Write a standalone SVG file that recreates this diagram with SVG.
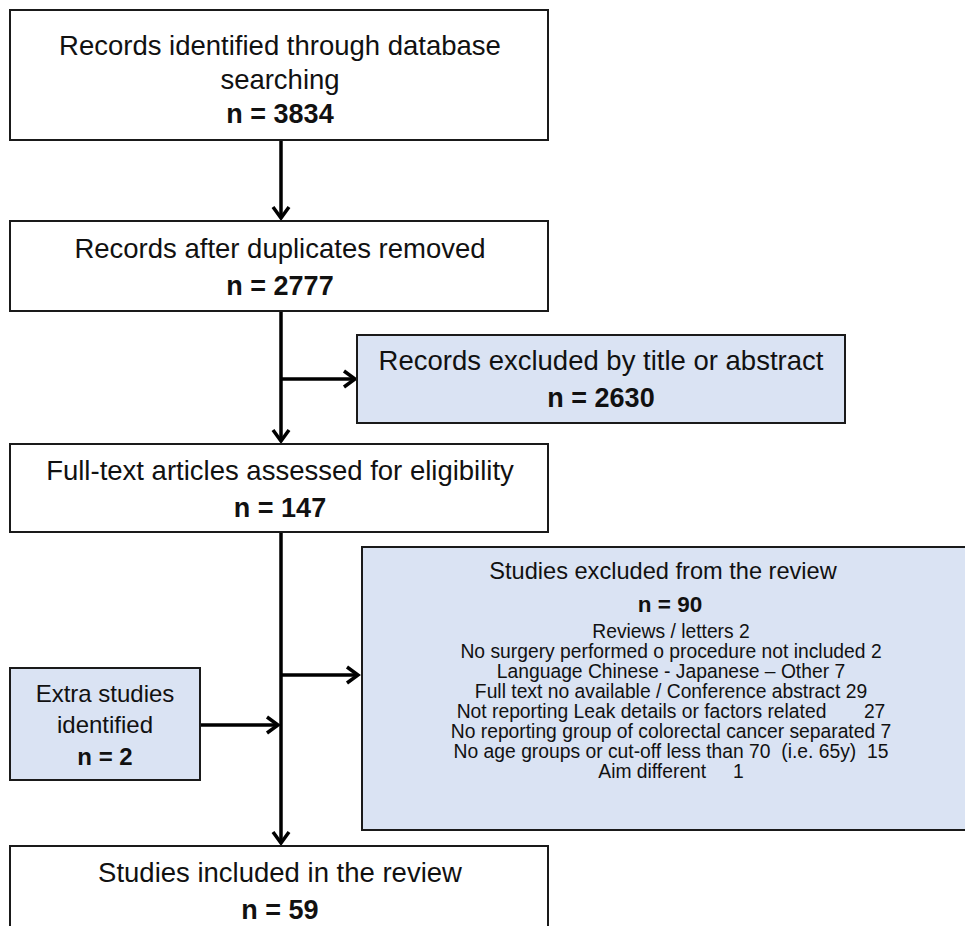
<svg xmlns="http://www.w3.org/2000/svg" width="965" height="926" viewBox="0 0 965 926">
<style>
.box{fill:#ffffff;stroke:#1a1a1a;stroke-width:2}
.blue{fill:#dae3f3;stroke:#1a1a1a;stroke-width:2}
text{font-family:"Liberation Sans",Arial,sans-serif;fill:#111;text-anchor:middle}
.t{font-size:27.5px}
.b{font-size:27px;font-weight:bold}
.h{font-size:23.6px}
.hb{font-size:22.5px;font-weight:bold}
.s{font-size:19.3px}
.e{font-size:24px}
.eb{font-size:24px;font-weight:bold}
.c{stroke:#000;stroke-width:3.5;fill:none}
</style>
<defs>
<marker id="ah" markerUnits="userSpaceOnUse" markerWidth="16" markerHeight="20" refX="13" refY="10" orient="auto" viewBox="0 0 16 20">
<path d="M2,2 L13,10 L2,18" fill="none" stroke="#000" stroke-width="3.5"/>
</marker>
</defs>
<g id="connectors">
<line class="c" x1="281" y1="140" x2="281" y2="218" marker-end="url(#ah)"/>
<line class="c" x1="281" y1="311" x2="281" y2="441" marker-end="url(#ah)"/>
<line class="c" x1="281" y1="379" x2="355" y2="379" marker-end="url(#ah)"/>
<line class="c" x1="281" y1="532" x2="281" y2="843" marker-end="url(#ah)"/>
<line class="c" x1="281" y1="675" x2="358" y2="675" marker-end="url(#ah)"/>
<line class="c" x1="201" y1="725" x2="278" y2="725" marker-end="url(#ah)"/>
</g>
<g id="n1">
<rect class="box" x="10" y="10" width="538" height="130"/>
<text class="t" x="280" y="55">Records identified through database</text>
<text class="t" x="280" y="89">searching</text>
<text class="b" x="280" y="123">n = 3834</text>
</g>
<g id="n2">
<rect class="box" x="10" y="221" width="538" height="90"/>
<text class="t" x="280" y="258">Records after duplicates removed</text>
<text class="b" x="280" y="295">n = 2777</text>
</g>
<g id="n3">
<rect class="blue" x="357" y="335" width="488" height="88"/>
<text class="t" x="601" y="370">Records excluded by title or abstract</text>
<text class="b" x="601" y="407">n = 2630</text>
</g>
<g id="n4">
<rect class="box" x="10" y="444" width="538" height="88"/>
<text class="t" x="280" y="480">Full-text articles assessed for eligibility</text>
<text class="b" x="280" y="517">n = 147</text>
</g>
<g id="n5">
<rect class="blue" x="362" y="547" width="620" height="283"/>
<text class="h" x="663" y="579">Studies excluded from the review</text>
<text class="hb" x="670" y="612">n = 90</text>
<text class="s" x="671" y="638">Reviews / letters 2</text>
<text class="s" x="671" y="658">No surgery performed o procedure not included 2</text>
<text class="s" x="671" y="678">Language Chinese - Japanese – Other 7</text>
<text class="s" x="671" y="698">Full text no available / Conference abstract 29</text>
<text class="s" x="671" y="718" xml:space="preserve">Not reporting Leak details or factors related       27</text>
<text class="s" x="671" y="738">No reporting group of colorectal cancer separated 7</text>
<text class="s" x="671" y="758" xml:space="preserve">No age groups or cut-off less than 70  (i.e. 65y)  15</text>
<text class="s" x="671" y="778" xml:space="preserve">Aim different     1</text>
</g>
<g id="n6">
<rect class="blue" x="10" y="668" width="190" height="112"/>
<text class="e" x="105" y="702">Extra studies</text>
<text class="e" x="105" y="733">identified</text>
<text class="eb" x="105" y="765">n = 2</text>
</g>
<g id="n7">
<rect class="box" x="10" y="846" width="538" height="100"/>
<text class="t" x="280" y="882">Studies included in the review</text>
<text class="b" x="280" y="919">n = 59</text>
</g>
</svg>
